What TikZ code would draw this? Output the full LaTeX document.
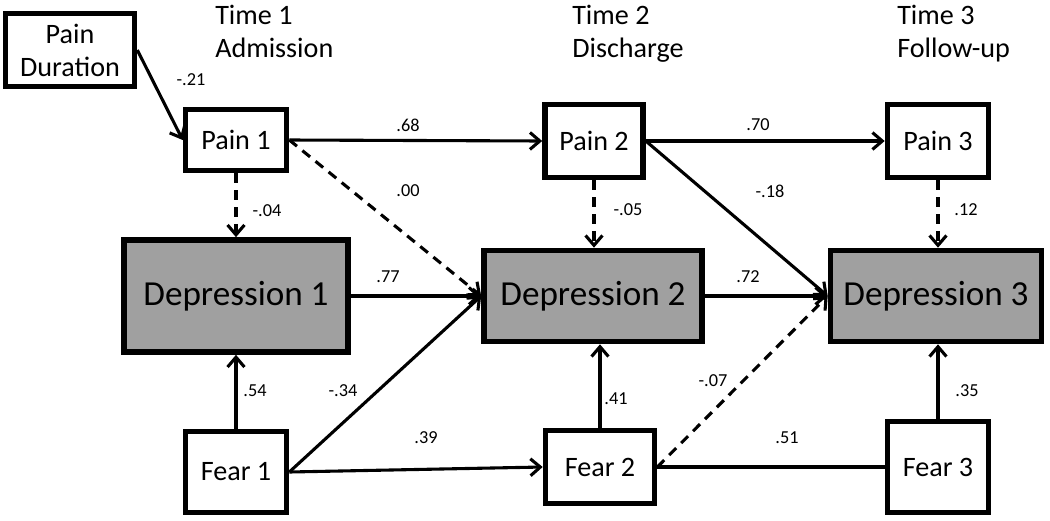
\documentclass[tikz,border=0pt]{standalone}
\usepackage{fontspec}
\setmainfont{Carlito}
\usetikzlibrary{arrows.meta}
\definecolor{depgray}{RGB}{160,160,160}
\newlength\unitpx
\setlength\unitpx{0.025cm}
\tikzset{
  box/.style={draw, line width=4pt, fill=white, inner sep=0pt, align=center,
    font=\fontsize{20}{23.5}\selectfont},
  depbox/.style={box, fill=depgray, font=\fontsize{25}{29}\selectfont},
  link/.style={line width=2.2pt, -{Straight Barb[length=7pt,width=12pt,line width=2.2pt]}},
  dlink/.style={link, dash pattern=on 7pt off 5pt},
  coef/.style={inner sep=0pt, font=\fontsize{13}{15}\selectfont},
  timelab/.style={inner sep=0pt, align=left, anchor=north west,
    font=\fontsize{20}{23.5}\selectfont}
}
\begin{document}
\begin{tikzpicture}[x=0.025cm,y=-0.025cm]
\useasboundingbox (0,0) rectangle (1050,520);
\path
  coordinate (cpd) at (70,50)
  coordinate (cp1) at (236,140)
  coordinate (cp2) at (594,141)
  coordinate (cp3) at (938,141)
  coordinate (cd1) at (236,296)
  coordinate (cd2) at (593,296)
  coordinate (cd3) at (936,296)
  coordinate (cf1) at (236,472)
  coordinate (cf2) at (600,467)
  coordinate (cf3) at (938,467)
  ;
\node[timelab] (t1) at (215,5) {Time 1\\Admission};
\node[timelab] (t2) at (572,5) {Time 2\\Discharge};
\node[timelab] (t3) at (897,5) {Time 3\\Follow-up};
\node[box, minimum width=129\unitpx, minimum height=73\unitpx] (pd) at (cpd) {Pain\\Duration};
\node[box, minimum width=101\unitpx, minimum height=61\unitpx] (pain1) at (cp1) {Pain 1};
\node[box, minimum width=98\unitpx, minimum height=73\unitpx] (pain2) at (cp2) {Pain 2};
\node[box, minimum width=101\unitpx, minimum height=73\unitpx] (pain3) at (cp3) {Pain 3};
\node[depbox, minimum width=224\unitpx, minimum height=112\unitpx] (dep1) at (cd1) {Depression 1};
\node[depbox, minimum width=218\unitpx, minimum height=91\unitpx] (dep2) at (cd2) {Depression 2};
\node[depbox, minimum width=211\unitpx, minimum height=91\unitpx] (dep3) at (cd3) {Depression 3};
\node[box, minimum width=101\unitpx, minimum height=81\unitpx] (fear1) at (cf1) {Fear 1};
\node[box, minimum width=109\unitpx, minimum height=73\unitpx] (fear2) at (cf2) {Fear 2};
\node[box, minimum width=101\unitpx, minimum height=91\unitpx] (fear3) at (cf3) {Fear 3};
\draw[link] (pd.east) -- (pain1.west);
\draw[link] (pain1.east) -- (pain2.west);
\draw[link] (pain2.east) -- (pain3.west);
\draw[dlink] (pain1.south) -- (pain1.south |- dep1.north);
\draw[dlink] (pain2.south) -- (pain2.south |- dep2.north);
\draw[dlink] (pain3.south) -- (pain3.south |- dep3.north);
\draw[dlink] (pain1.east) -- (dep2.west);
\draw[link] (dep1.east |- dep2.west) -- (dep2.west);
\draw[link] (dep2.east |- dep3.west) -- (dep3.west);
\draw[link] (pain2.east) -- (dep3.west);
\draw[link] (fear1.north) -- (fear1.north |- dep1.south);
\draw[link] (fear2.north) -- (fear2.north |- dep2.south);
\draw[link] (fear3.north) -- (fear3.north |- dep3.south);
\draw[link] (fear1.east) -- (dep2.west);
\draw[link] (fear1.east) -- (fear2.west);
\draw[dlink] (fear2.east) -- (dep3.west);
\draw[line width=2.2pt] (fear2.east) -- (fear3.west);
\node[coef] (k1) at (191,80) {-.21};
\node[coef] (k2) at (267,211) {-.04};
\node[coef] (k3) at (408,125) {.68};
\node[coef] (k4) at (408,191) {.00};
\node[coef] (k5) at (388,277) {.77};
\node[coef] (k6) at (628,210) {-.05};
\node[coef] (k7) at (758,125) {.70};
\node[coef] (k8) at (770,191) {-.18};
\node[coef] (k9) at (966,210) {.12};
\node[coef] (k10) at (748,277) {.72};
\node[coef] (k11) at (255,391) {.54};
\node[coef] (k12) at (343,391) {-.34};
\node[coef] (k13) at (426,438) {.39};
\node[coef] (k14) at (616,399) {.41};
\node[coef] (k15) at (713,381) {-.07};
\node[coef] (k16) at (787,438) {.51};
\node[coef] (k17) at (967,391) {.35};
\end{tikzpicture}
\end{document}
